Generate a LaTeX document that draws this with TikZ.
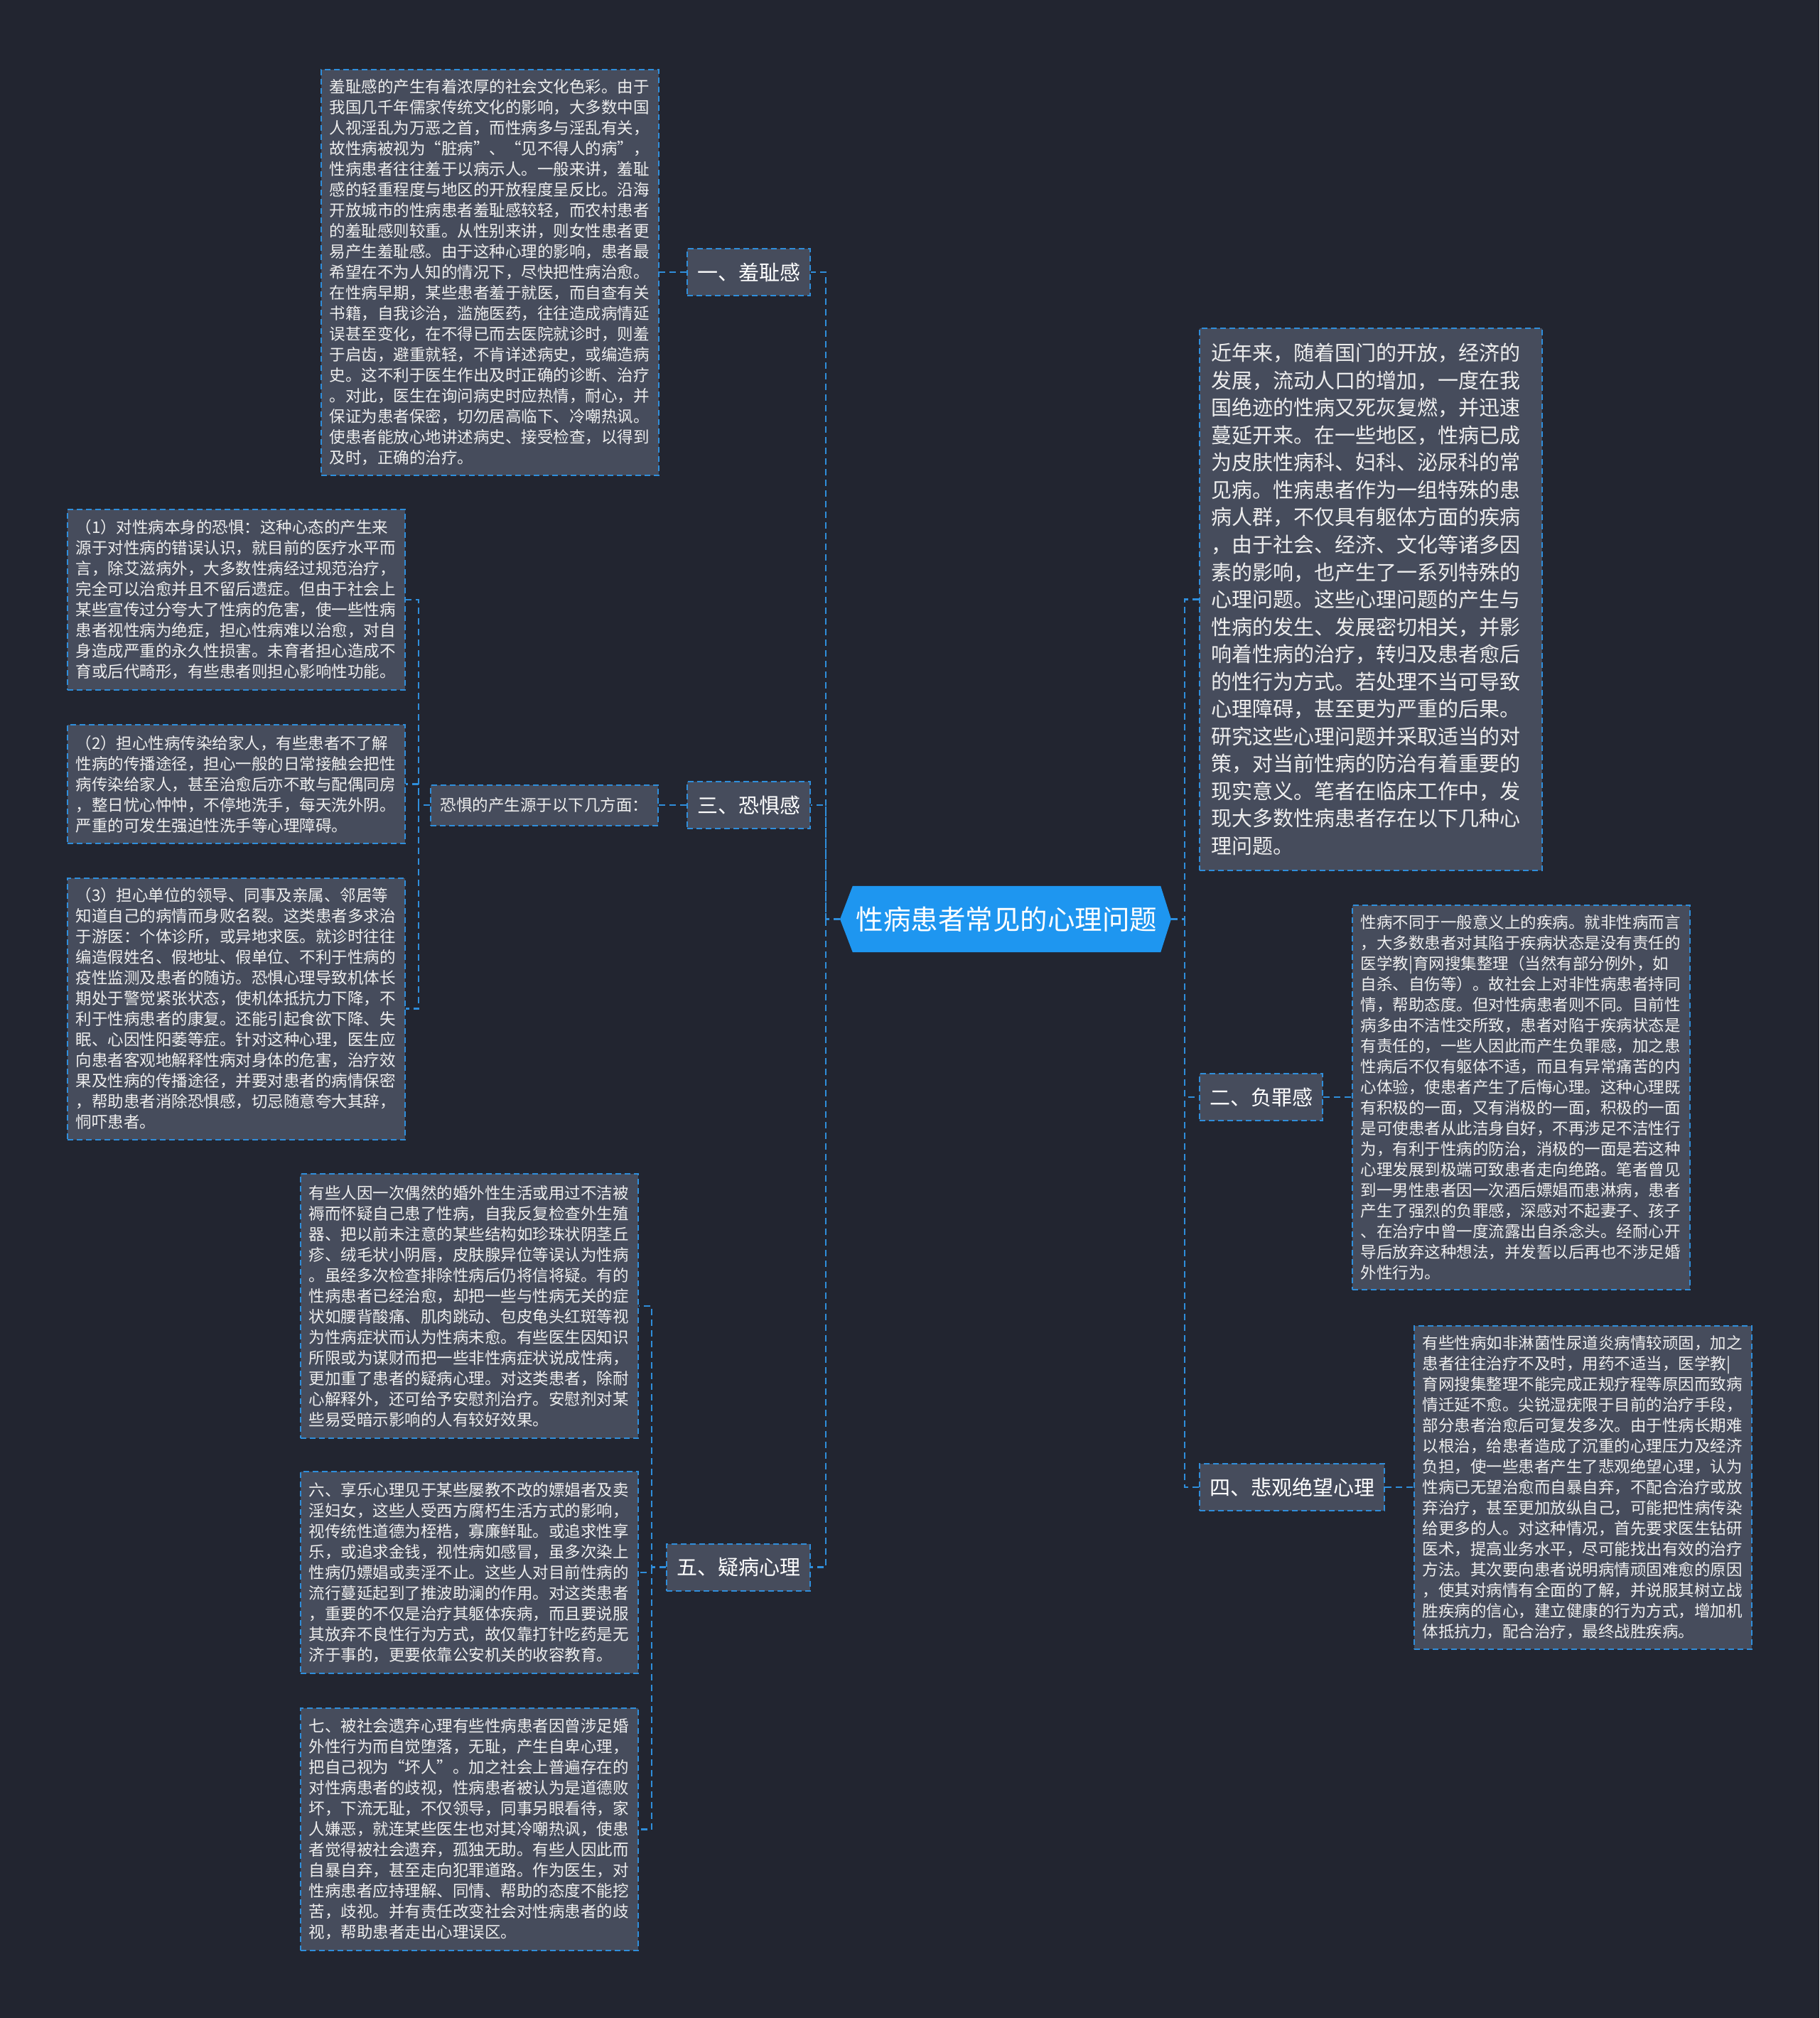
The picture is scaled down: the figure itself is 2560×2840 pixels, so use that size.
\documentclass[tikz,border=0pt]{standalone}
\usepackage{fontspec}
\setmainfont{Noto Sans CJK SC}
\usetikzlibrary{calc}
\definecolor{bgcol}{HTML}{222530}
\definecolor{boxfill}{HTML}{464C5C}
\definecolor{linecol}{HTML}{2F8EDB}
\definecolor{rootcol}{HTML}{1E96F0}
\definecolor{txtcol}{HTML}{EEEEEE}
\pgfdeclarelayer{bglayer}
\pgfdeclarelayer{midlayer}
\pgfsetlayers{bglayer,midlayer,main}
\begin{document}
\begin{tikzpicture}[x=1pt,y=-1pt,
  conn/.style={draw=linecol, line width=2.2pt, dash pattern=on 9pt off 6pt},
  textbox/.style={draw=linecol, fill=boxfill, line width=2pt, dash pattern=on 8pt off 5pt, text=txtcol, align=left, font=\fontsize{22.5}{29}\selectfont, inner xsep=11.5pt, inner ysep=0pt, text width=452pt},
  bigbox/.style={textbox, font=\fontsize{29}{38.55}\selectfont, inner xsep=16pt, text width=450pt},
  titlebox/.style={draw=linecol, fill=boxfill, line width=2pt, dash pattern=on 8pt off 5pt, text=white, font=\fontsize{29}{34}\selectfont, inner xsep=14pt, inner ysep=0pt, minimum height=66pt},
  subbox/.style={titlebox, text=txtcol, font=\fontsize{22.5}{26}\selectfont, minimum height=57pt, minimum width=316pt},
  rootnode/.style={text=white, font=\fontsize{38.5}{44}\selectfont, minimum width=433pt, minimum height=93pt, inner sep=0pt}
]
\useasboundingbox (0,0) rectangle (2560,2840);
\begin{pgfonlayer}{bglayer}
\fill[bgcol] (0,0) rectangle (2560,2840);
\end{pgfonlayer}

% root
\node[rootnode] (root) at (1416.5,1293.5) {性病患者常见的心理问题};
\coordinate (rootW) at (1182,1293.5);
\coordinate (rootE) at (1648,1293.5);

% spine coordinates
\coordinate (sL) at (1162,1293.5);
\coordinate (sR) at (1667,1293.5);
\coordinate (sK) at (589,1133);
\coordinate (sF) at (917,2205.5);

% left titles
\node[titlebox, anchor=east] (t1) at (1141,383) {一、羞耻感};
\node[titlebox, anchor=east] (t3) at (1141,1133) {三、恐惧感};
\node[titlebox, anchor=east] (t5) at (1141,2205.5) {五、疑病心理};
\node[subbox, anchor=east] (s3) at (927,1133) {恐惧的产生源于以下几方面：};

% right titles
\node[titlebox, anchor=west] (t2) at (1687,1544) {二、负罪感};
\node[titlebox, anchor=west] (t4) at (1687,2093) {四、悲观绝望心理};

% text boxes
\node[textbox, anchor=east, minimum height=571pt] (b1) at (928,383) {羞耻感的产生有着浓厚的社会文化色彩。由于\\我国几千年儒家传统文化的影响，大多数中国\\人视淫乱为万恶之首，而性病多与淫乱有关，\\故性病被视为“脏病”、“见不得人的病”，\\性病患者往往羞于以病示人。一般来讲，羞耻\\感的轻重程度与地区的开放程度呈反比。沿海\\开放城市的性病患者羞耻感较轻，而农村患者\\的羞耻感则较重。从性别来讲，则女性患者更\\易产生羞耻感。由于这种心理的影响，患者最\\希望在不为人知的情况下，尽快把性病治愈。\\在性病早期，某些患者羞于就医，而自查有关\\书籍，自我诊治，滥施医药，往往造成病情延\\误甚至变化，在不得已而去医院就诊时，则羞\\于启齿，避重就轻，不肯详述病史，或编造病\\史。这不利于医生作出及时正确的诊断、治疗\\。对此，医生在询问病史时应热情，耐心，并\\保证为患者保密，切勿居高临下、冷嘲热讽。\\使患者能放心地讲述病史、接受检查，以得到\\及时，正确的治疗。};

\node[textbox, anchor=east, minimum height=254pt] (b31) at (571,844) {（1）对性病本身的恐惧：这种心态的产生来\\源于对性病的错误认识，就目前的医疗水平而\\言，除艾滋病外，大多数性病经过规范治疗，\\完全可以治愈并且不留后遗症。但由于社会上\\某些宣传过分夸大了性病的危害，使一些性病\\患者视性病为绝症，担心性病难以治愈，对自\\身造成严重的永久性损害。未育者担心造成不\\育或后代畸形，有些患者则担心影响性功能。};

\node[textbox, anchor=east, minimum height=167pt] (b32) at (571,1103.5) {（2）担心性病传染给家人，有些患者不了解\\性病的传播途径，担心一般的日常接触会把性\\病传染给家人，甚至治愈后亦不敢与配偶同房\\，整日忧心忡忡，不停地洗手，每天洗外阴。\\严重的可发生强迫性洗手等心理障碍。};

\node[textbox, anchor=east, minimum height=368pt] (b33) at (571,1419.5) {（3）担心单位的领导、同事及亲属、邻居等\\知道自己的病情而身败名裂。这类患者多求治\\于游医：个体诊所，或异地求医。就诊时往往\\编造假姓名、假地址、假单位、不利于性病的\\疫性监测及患者的随访。恐惧心理导致机体长\\期处于警觉紧张状态，使机体抵抗力下降，不\\利于性病患者的康复。还能引起食欲下降、失\\眠、心因性阳萎等症。针对这种心理，医生应\\向患者客观地解释性病对身体的危害，治疗效\\果及性病的传播途径，并要对患者的病情保密\\，帮助患者消除恐惧感，切忌随意夸大其辞，\\恫吓患者。};

\node[textbox, anchor=east, minimum height=372pt] (b51) at (899,1838) {有些人因一次偶然的婚外性生活或用过不洁被\\褥而怀疑自己患了性病，自我反复检查外生殖\\器、把以前未注意的某些结构如珍珠状阴茎丘\\疹、绒毛状小阴唇，皮肤腺异位等误认为性病\\。虽经多次检查排除性病后仍将信将疑。有的\\性病患者已经治愈，却把一些与性病无关的症\\状如腰背酸痛、肌肉跳动、包皮龟头红斑等视\\为性病症状而认为性病未愈。有些医生因知识\\所限或为谋财而把一些非性病症状说成性病，\\更加重了患者的疑病心理。对这类患者，除耐\\心解释外，还可给予安慰剂治疗。安慰剂对某\\些易受暗示影响的人有较好效果。};

\node[textbox, anchor=east, minimum height=284pt] (b52) at (899,2213) {六、享乐心理见于某些屡教不改的嫖娼者及卖\\淫妇女，这些人受西方腐朽生活方式的影响，\\视传统性道德为桎梏，寡廉鲜耻。或追求性享\\乐，或追求金钱，视性病如感冒，虽多次染上\\性病仍嫖娼或卖淫不止。这些人对目前性病的\\流行蔓延起到了推波助澜的作用。对这类患者\\，重要的不仅是治疗其躯体疾病，而且要说服\\其放弃不良性行为方式，故仅靠打针吃药是无\\济于事的，更要依靠公安机关的收容教育。};

\node[textbox, anchor=east, minimum height=341pt] (b53) at (899,2574.5) {七、被社会遗弃心理有些性病患者因曾涉足婚\\外性行为而自觉堕落，无耻，产生自卑心理，\\把自己视为“坏人”。加之社会上普遍存在的\\对性病患者的歧视，性病患者被认为是道德败\\坏，下流无耻，不仅领导，同事另眼看待，家\\人嫌恶，就连某些医生也对其冷嘲热讽，使患\\者觉得被社会遗弃，孤独无助。有些人因此而\\自暴自弃，甚至走向犯罪道路。作为医生，对\\性病患者应持理解、同情、帮助的态度不能挖\\苦，歧视。并有责任改变社会对性病患者的歧\\视，帮助患者走出心理误区。};

\node[bigbox, anchor=west, minimum height=763pt] (b0) at (1687,843.5) {近年来，随着国门的开放，经济的\\发展，流动人口的增加，一度在我\\国绝迹的性病又死灰复燃，并迅速\\蔓延开来。在一些地区，性病已成\\为皮肤性病科、妇科、泌尿科的常\\见病。性病患者作为一组特殊的患\\病人群，不仅具有躯体方面的疾病\\，由于社会、经济、文化等诸多因\\素的影响，也产生了一系列特殊的\\心理问题。这些心理问题的产生与\\性病的发生、发展密切相关，并影\\响着性病的治疗，转归及患者愈后\\的性行为方式。若处理不当可导致\\心理障碍，甚至更为严重的后果。\\研究这些心理问题并采取适当的对\\策，对当前性病的防治有着重要的\\现实意义。笔者在临床工作中，发\\现大多数性病患者存在以下几种心\\理问题。};

\node[textbox, anchor=west, minimum height=541pt] (b2) at (1902,1544) {性病不同于一般意义上的疾病。就非性病而言\\，大多数患者对其陷于疾病状态是没有责任的\\医学教|育网搜集整理（当然有部分例外，如\\自杀、自伤等）。故社会上对非性病患者持同\\情，帮助态度。但对性病患者则不同。目前性\\病多由不洁性交所致，患者对陷于疾病状态是\\有责任的，一些人因此而产生负罪感，加之患\\性病后不仅有躯体不适，而且有异常痛苦的内\\心体验，使患者产生了后悔心理。这种心理既\\有积极的一面，又有消极的一面，积极的一面\\是可使患者从此洁身自好，不再涉足不洁性行\\为，有利于性病的防治，消极的一面是若这种\\心理发展到极端可致患者走向绝路。笔者曾见\\到一男性患者因一次酒后嫖娼而患淋病，患者\\产生了强烈的负罪感，深感对不起妻子、孩子\\、在治疗中曾一度流露出自杀念头。经耐心开\\导后放弃这种想法，并发誓以后再也不涉足婚\\外性行为。};

\node[textbox, anchor=west, minimum height=455pt] (b4) at (1989,2093) {有些性病如非淋菌性尿道炎病情较顽固，加之\\患者往往治疗不及时，用药不适当，医学教|\\育网搜集整理不能完成正规疗程等原因而致病\\情迁延不愈。尖锐湿疣限于目前的治疗手段，\\部分患者治愈后可复发多次。由于性病长期难\\以根治，给患者造成了沉重的心理压力及经济\\负担，使一些患者产生了悲观绝望心理，认为\\性病已无望治愈而自暴自弃，不配合治疗或放\\弃治疗，甚至更加放纵自己，可能把性病传染\\给更多的人。对这种情况，首先要求医生钻研\\医术，提高业务水平，尽可能找出有效的治疗\\方法。其次要向患者说明病情顽固难愈的原因\\，使其对病情有全面的了解，并说服其树立战\\胜疾病的信心，建立健康的行为方式，增加机\\体抵抗力，配合治疗，最终战胜疾病。};

\begin{pgfonlayer}{midlayer}
% root hexagon
\fill[rootcol] (root.north west) -- (root.north east) -- (rootE) -- (root.south east) -- (root.south west) -- (rootW) -- cycle;
% left connectors
\draw[conn] (rootW) -- (sL) |- (t1.east);
\draw[conn] (sL) |- (t3.east);
\draw[conn] (sL) |- (t5.east);
\draw[conn] (t1.west) -- (b1.east);
\draw[conn] (t3.west) -- (s3.east);
\draw[conn] (s3.west) -- (sK) |- (b31.east);
\draw[conn] (sK) |- (b32.east);
\draw[conn] (sK) |- (b33.east);
\draw[conn] (t5.west) -- (sF) |- (b51.east);
\draw[conn] (sF) |- (b52.east);
\draw[conn] (sF) |- (b53.east);
% right connectors
\draw[conn] (rootE) -- (sR) |- (b0.west);
\draw[conn] (sR) |- (t2.west);
\draw[conn] (sR) |- (t4.west);
\draw[conn] (t2.east) -- (b2.west);
\draw[conn] (t4.east) -- (b4.west);
\end{pgfonlayer}
\end{tikzpicture}
\end{document}
